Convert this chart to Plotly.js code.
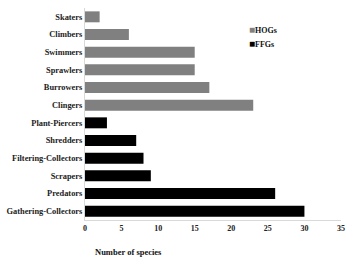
<!DOCTYPE html>
<html><head><meta charset="utf-8">
<script src="https://cdn.plot.ly/plotly-3.0.1.min.js"></script>
<style>html,body{margin:0;padding:0;background:#fff}</style>
</head><body><div id="chart" style="width:348px;height:258px"></div>
<script>
const hogCategories = ["Skaters","Climbers","Swimmers","Sprawlers","Burrowers","Clingers"];
const hogValues = [2,6,15,15,17,23];
const ffgCategories = ["Plant-Piercers","Shredders","Filtering-Collectors","Scrapers","Predators","Gathering-Collectors"];
const ffgValues = [3,7,8,9,26,30];
const xTicks = [0,5,10,15,20,25,30,35];
const seriesNames = ["HOGs","FFGs"];
const seriesColors = ["#808080","#000000"];

const order = hogCategories.concat(ffgCategories).slice().reverse();
const fam = "Liberation Serif, Times New Roman, serif";

const legendAnn = seriesNames.map((n,i)=>({
  text:'<span style="color:'+seriesColors[i]+';font-size:10px">■</span>'+n,
  xref:"paper", yref:"paper", x:(247-85)/256, y:1, xanchor:"left", yanchor:"middle",
  yshift:-(29+14*i-8), showarrow:false,
  font:{family:fam, size:8, color:"#111", weight:"bold"}
}));

Plotly.newPlot("chart", [
  {type:"bar", orientation:"h", name:seriesNames[0], y:hogCategories, x:hogValues,
   marker:{color:seriesColors[0]}},
  {type:"bar", orientation:"h", name:seriesNames[1], y:ffgCategories, x:ffgValues,
   marker:{color:seriesColors[1]}}
], {
  width:348, height:258,
  margin:{l:85, r:7, t:8, b:38},
  paper_bgcolor:"#fff", plot_bgcolor:"#fff",
  barmode:"overlay", bargap:0.38,
  font:{family:fam, color:"#222"},
  showlegend:false,
  xaxis:{range:[0,35], tickvals:xTicks, ticktext:xTicks.map(String), showgrid:false, zeroline:false,
    showline:true, linecolor:"#d9d9d9", linewidth:1, ticks:"", ticklen:0,
    tickfont:{family:fam, size:8, color:"#222", weight:"bold"}},
  yaxis:{type:"category", categoryorder:"array", categoryarray:order, showgrid:false, zeroline:false,
    showline:true, linecolor:"#d9d9d9", linewidth:1, ticks:"", ticklen:0,
    tickfont:{family:fam, size:8.4, color:"#222", weight:"bold"}},
  annotations:[{text:"Number of species", xref:"paper", yref:"paper", x:0.168, y:0,
    xanchor:"center", yanchor:"middle", yshift:-32, showarrow:false,
    font:{family:fam, size:8.5, color:"#111", weight:"bold"}}].concat(legendAnn)
}, {displayModeBar:false, staticPlot:true});
</script></body></html>
